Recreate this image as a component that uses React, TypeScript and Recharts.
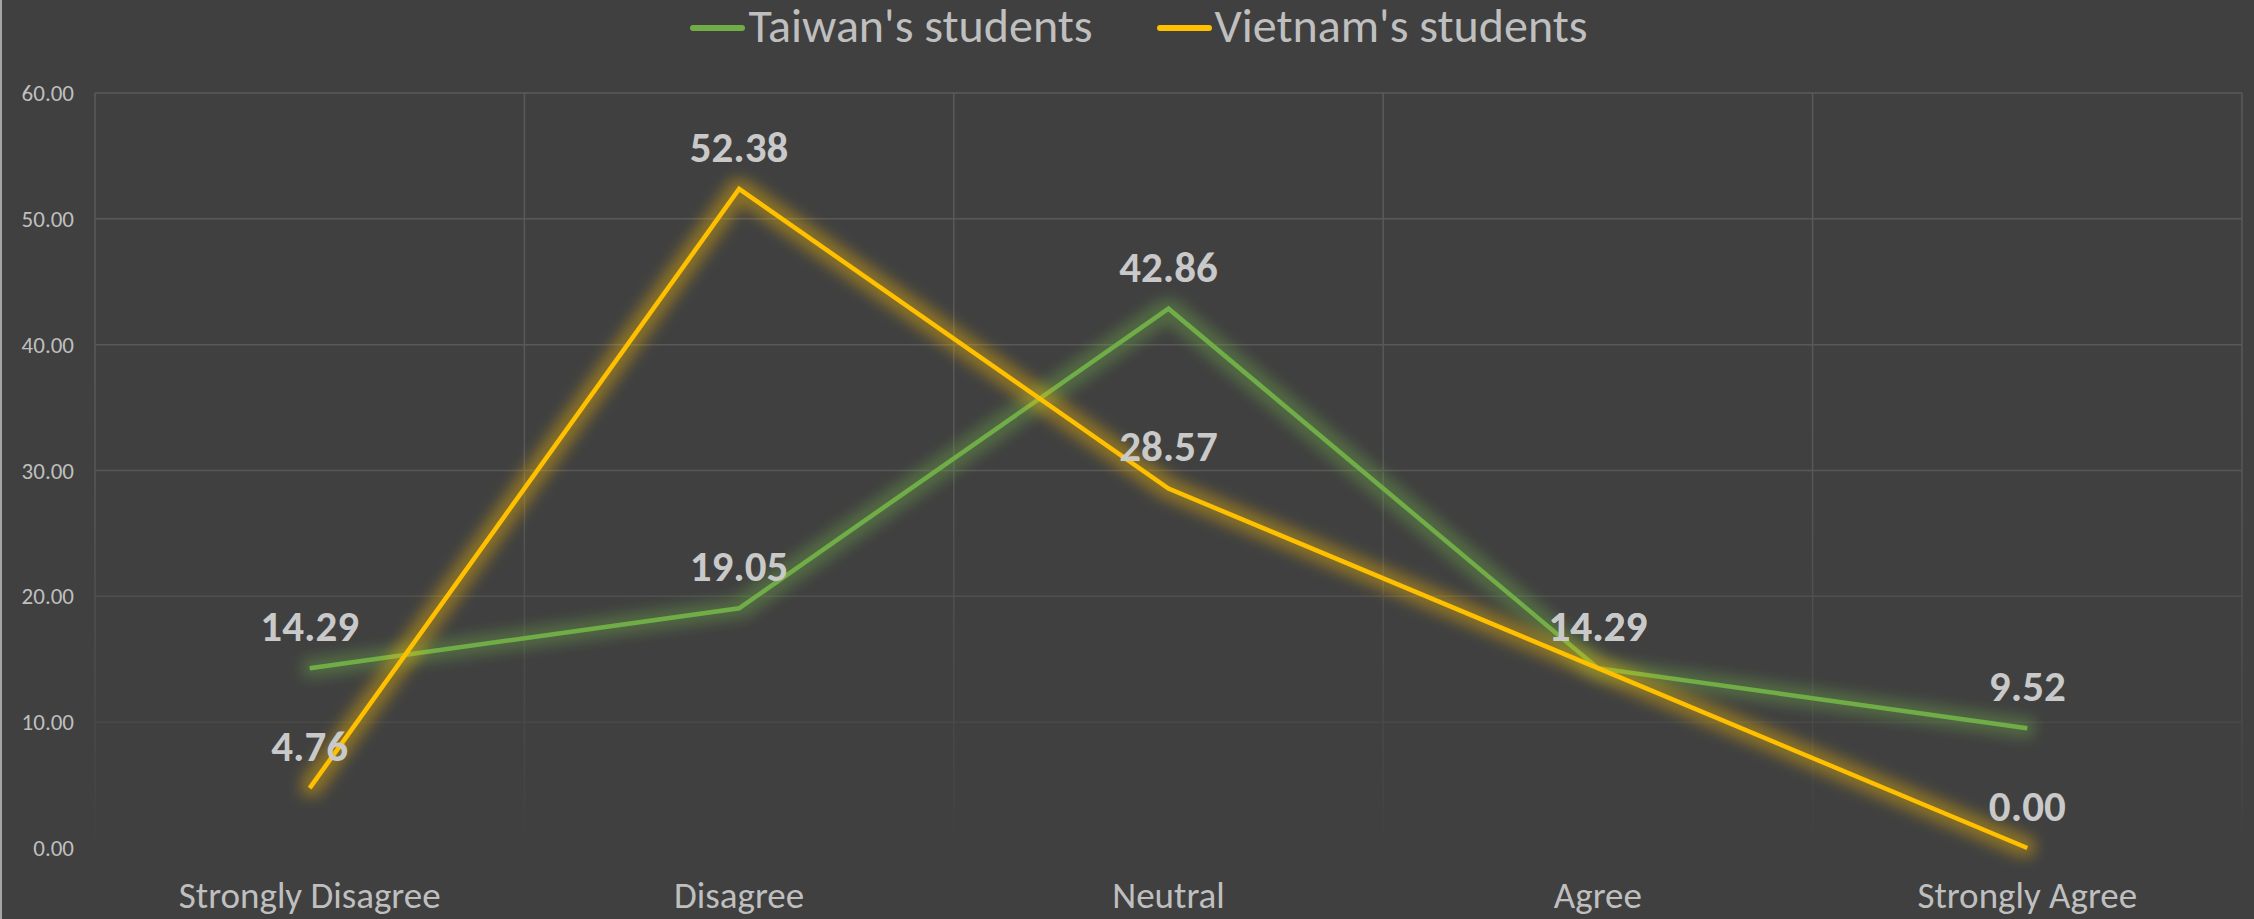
import React from "react";
import {
  LineChart,
  Line,
  XAxis,
  YAxis,
  CartesianGrid,
  Legend,
  LabelList,
} from "recharts";

const categories = ["Strongly Disagree", "Disagree", "Neutral", "Agree", "Strongly Agree"];
const taiwanValues = [14.29, 19.05, 42.86, 14.29, 9.52];
const vietnamValues = [4.76, 52.38, 28.57, 14.29, 0.0];
const yTicks = [0, 10, 20, 30, 40, 50, 60];

const seriesList = [
  { key: "taiwan", name: "Taiwan's students", color: "#70ad47", glow: "glowGreen" },
  { key: "vietnam", name: "Vietnam's students", color: "#ffc000", glow: "glowYellow" },
];

const chartData = categories.map((name, i) => ({
  name,
  taiwan: taiwanValues[i],
  vietnam: vietnamValues[i],
}));

const FONT = "Calibri, Carlito, Lato, sans-serif";
const TEXT = "#bfbfbf";
const PLOT_TOP = 93;
const PLOT_BOTTOM = 848;
const PLOT_W = 2147;
const HALF_BAND = PLOT_W / categories.length / 2;

// legend drawn by hand so the swatch sits right against the text like Excel
function LegendContent() {
  return (
    <div style={{ display: "flex", justifyContent: "center", alignItems: "center", gap: 64, height: 52 }}>
      {seriesList.map((s) => (
        <div key={s.key} style={{ display: "flex", alignItems: "center" }}>
          <span
            style={{
              display: "inline-block",
              width: 55,
              height: 6,
              borderRadius: 3,
              background: s.color,
              marginRight: 3,
              marginTop: 4,
            }}
          />
          <span style={{ fontFamily: FONT, fontSize: 48, color: TEXT, lineHeight: "52px" }}>
            {s.name}
          </span>
        </div>
      ))}
    </div>
  );
}

function glowFilter(id: string) {
  return (
    <filter id={id} x="-20%" y="-30%" width="140%" height="160%">
      <feMorphology in="SourceGraphic" operator="dilate" radius="7" result="d" />
      <feGaussianBlur in="d" stdDeviation="7" result="b" />
      <feComponentTransfer in="b" result="c">
        <feFuncA type="linear" slope="0.38" />
      </feComponentTransfer>
      <feMerge>
        <feMergeNode in="c" />
        <feMergeNode in="SourceGraphic" />
      </feMerge>
    </filter>
  );
}

export default function App() {
  return (
    <div
      style={{
        position: "absolute",
        left: 0,
        top: 0,
        width: 2254,
        height: 919,
        background: "#404040",
        borderLeft: "2px solid #a6a6a6",
        boxSizing: "border-box",
      }}
    >
      <LineChart
        width={2252}
        height={919}
        data={chartData}
        margin={{ top: 41, right: 12, left: 0, bottom: 0 }}
      >
        <defs>
          {glowFilter("glowGreen")}
          {glowFilter("glowYellow")}
          {/* grid fades out towards the bottom of the plot */}
          <linearGradient id="gridFade" gradientUnits="userSpaceOnUse" x1="0" y1={PLOT_TOP} x2="0" y2={PLOT_BOTTOM}>
            <stop offset="0" stopColor="#5a5a5a" />
            <stop offset="0.5" stopColor="#575757" />
            <stop offset="0.75" stopColor="#4c4c4c" />
            <stop offset="0.9" stopColor="#464646" />
            <stop offset="1" stopColor="#404040" />
          </linearGradient>
        </defs>
        <CartesianGrid
          stroke="url(#gridFade)"
          strokeWidth={1.5}
          verticalCoordinatesGenerator={({ offset }: any) =>
            categories
              .map((_, i) => offset.left + (i * offset.width) / categories.length)
              .concat([offset.left + offset.width])
          }
        />
        <XAxis
          dataKey="name"
          axisLine={false}
          tickLine={false}
          tickSize={0}
          tickMargin={34}
          height={71}
          interval={0}
          padding={{ left: HALF_BAND, right: HALF_BAND }}
          tick={{ fill: TEXT, fontSize: 37, fontFamily: FONT }}
        />
        <YAxis
          domain={[0, 60]}
          ticks={yTicks}
          axisLine={false}
          tickLine={false}
          tickSize={0}
          tickMargin={21}
          width={93}
          tickFormatter={(v: number) => v.toFixed(2)}
          tick={{ fill: TEXT, fontSize: 23, fontFamily: FONT }}
        />
        <Legend
          verticalAlign="top"
          height={52}
          content={<LegendContent />}
          wrapperStyle={{ top: 0, left: 20, width: 2234 }}
        />
        {seriesList.map((s) => (
          <Line
            key={s.key}
            type="linear"
            dataKey={s.key}
            name={s.name}
            stroke={s.color}
            strokeWidth={4.5}
            dot={false}
            activeDot={false}
            filter={`url(#${s.glow})`}
            isAnimationActive={false}
          >
            <LabelList
              dataKey={s.key}
              position="top"
              offset={27}
              formatter={(v: number) => v.toFixed(2)}
              style={{ fill: "#c9c9c9", fontSize: 43, fontWeight: 700, fontFamily: FONT }}
            />
          </Line>
        ))}
      </LineChart>
    </div>
  );
}
